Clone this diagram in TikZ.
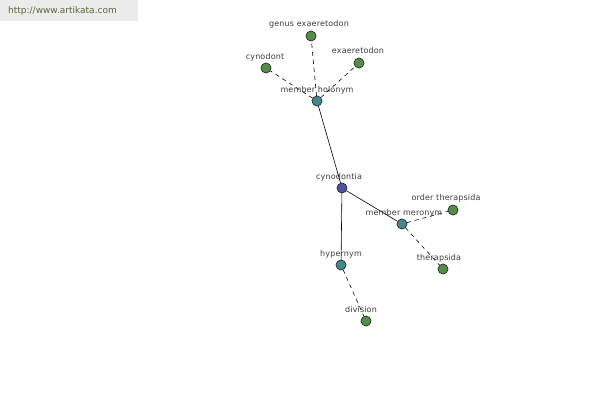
\documentclass[tikz,border=0pt]{standalone}
\usepackage{fontspec}
\setmainfont{DejaVu Sans}
\newfontfamily\labfont[LetterSpace=2]{DejaVu Sans}
\newfontfamily\urlfont{DejaVu Sans}
\definecolor{leaf}{RGB}{84,140,72}
\definecolor{mid}{RGB}{64,138,140}
\definecolor{root}{RGB}{80,82,160}
\definecolor{edge}{RGB}{40,40,40}
\definecolor{txt}{RGB}{60,60,60}
\definecolor{urlbg}{RGB}{236,236,236}
\definecolor{urltxt}{RGB}{85,105,60}
\begin{document}
\begin{tikzpicture}[x=1pt,y=-1pt,
  vert/.style={circle,draw=edge,line width=0.5pt,minimum size=10pt,inner sep=0pt},
  leafnode/.style={vert,fill=leaf},
  midnode/.style={vert,fill=mid},
  rootnode/.style={vert,fill=root},
  lab/.style={font=\labfont\fontsize{8}{9}\selectfont,text=txt,inner sep=0pt},
  solidedge/.style={draw=black,line width=0.6pt},
  dashedge/.style={draw=black,line width=0.6pt,dash pattern=on 4pt off 4pt}]
\useasboundingbox (0,0) rectangle (600,400);
\fill[white] (0,0) rectangle (600,400);
\node[fill=urlbg,minimum width=138pt,minimum height=21pt,inner sep=0pt,anchor=north west] (urlbox) at (0,0) {};
\node[font=\urlfont\fontsize{9}{10}\selectfont,text=urltxt,inner sep=0pt,anchor=west] (url) at (8,11) {http://www.artikata.com};

\node[rootnode] (cyn) at (342,188) {};
\node[midnode] (mh) at (317,101) {};
\node[leafnode] (ge) at (311,36) {};
\node[leafnode] (cd) at (266,68) {};
\node[leafnode] (ex) at (359,63) {};
\node[midnode] (mm) at (402,224) {};
\node[leafnode] (ot) at (453,210) {};
\node[leafnode] (th) at (443,269) {};
\node[midnode] (hy) at (341,265) {};
\node[leafnode] (dv) at (366,321) {};

\draw[solidedge] (cyn) -- (mh);
\draw[solidedge] (cyn) -- (mm);
\draw[solidedge] (cyn) -- (hy);
\draw[dashedge] (mh) -- (ge);
\draw[dashedge] (mh) -- (cd);
\draw[dashedge] (mh) -- (ex);
\draw[dashedge] (mm) -- (ot);
\draw[dashedge] (mm) -- (th);
\draw[dashedge] (hy) -- (dv);

\foreach \n/\c in {cyn/rootnode,mh/midnode,ge/leafnode,cd/leafnode,ex/leafnode,mm/midnode,ot/leafnode,th/leafnode,hy/midnode,dv/leafnode}{
  \node[\c] at (\n) {};
}

\node[lab] (lcyn) at (339,177) {cynodontia};
\node[lab] (lmh) at (317,90) {member holonym};
\node[lab] (lge) at (309,24) {genus exaeretodon};
\node[lab] (lcd) at (265,57) {cynodont};
\node[lab] (lex) at (358,51) {exaeretodon};
\node[lab] (lmm) at (404,213) {member meronym};
\node[lab] (lot) at (446,198) {order therapsida};
\node[lab] (lth) at (439,258) {therapsida};
\node[lab] (lhy) at (341,254) {hypernym};
\node[lab] (ldv) at (361,310) {division};
\end{tikzpicture}
\end{document}
